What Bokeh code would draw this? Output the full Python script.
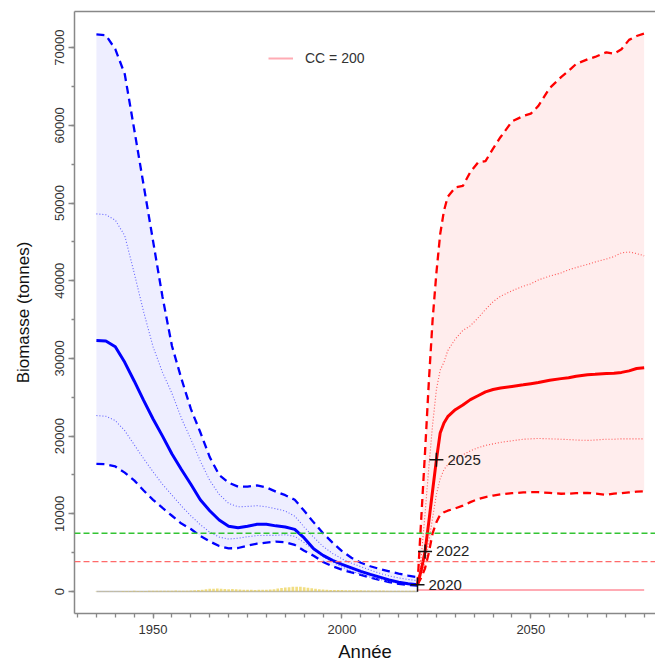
from bokeh.plotting import figure
from bokeh.models import (LinearAxis, SingleIntervalTicker, FixedTicker,
                          NumeralTickFormatter, Span, Legend, LegendItem)
from bokeh.core.properties import value
from bokeh.embed import file_html
from bokeh.resources import INLINE

FONT = "Liberation Sans"

# ---------------- historical reconstruction (blue) ----------------
hist_years = [1935, 1937.5, 1940, 1942.5, 1945, 1947.5, 1950, 1952.5, 1955, 1957.5,
              1960, 1962.5, 1965, 1967.5, 1970, 1972.5, 1975, 1977.5, 1980, 1982.5,
              1985, 1987.5, 1990, 1992.5, 1995, 1997.5, 2000, 2002.5, 2005, 2007.5,
              2010, 2012.5, 2015, 2017.5, 2020]
hist_median = [32300, 32250, 31500, 29500, 27100, 24600, 22200, 20000, 17700, 15700,
               13800, 11800, 10400, 9200, 8400, 8200, 8400, 8650, 8650, 8450,
               8300, 8000, 6900, 5500, 4650, 4000, 3500, 3050, 2600, 2200,
               1850, 1500, 1200, 1000, 860]
hist_hi95 = [71700, 71600, 69800, 66600, 59500, 52300, 45100, 37900, 31600, 27400,
             23500, 20500, 17300, 15000, 14000, 13500, 13500, 13650, 13400, 12850,
             12400, 11800, 10400, 8900, 7500, 6300, 5200, 4350, 3700, 3250,
             2900, 2600, 2300, 2050, 1840]
hist_lo95 = [16430, 16380, 16100, 15300, 14300, 13000, 11800, 10750, 9750, 8750,
             8050, 7150, 6450, 5850, 5550, 5600, 5900, 6150, 6300, 6420,
             6350, 6000, 5250, 4600, 3800, 3250, 2800, 2450, 2150, 1800,
             1500, 1200, 970, 850, 770]
hist_hi50 = [48600, 48500, 47800, 45800, 41000, 36000, 31500, 28200, 25500, 22300,
             19600, 16800, 14300, 12500, 11350, 10900, 10950, 11050, 10900, 10650,
             10350, 9700, 8300, 7000, 5800, 4900, 4200, 3650, 3200, 2750,
             2350, 2000, 1750, 1550, 1400]
hist_lo50 = [22650, 22550, 22000, 20700, 18900, 17100, 15400, 13800, 12400, 11000,
             9750, 8600, 7650, 7000, 6750, 6850, 7050, 7200, 7220, 7230,
             7300, 7100, 6300, 5400, 4500, 3800, 3150, 2650, 2250, 1850,
             1550, 1300, 1080, 920, 820]

# ---------------- projection CC = 200 (red) ----------------
proj_years = [2020, 2021, 2022, 2023, 2024, 2025, 2026, 2027, 2028, 2030, 2032, 2034,
              2036, 2038, 2040, 2042, 2045, 2048, 2050, 2052, 2055, 2058, 2060, 2062,
              2065, 2067, 2070, 2072, 2074, 2076, 2078, 2080]
proj_median = [860, 2800, 5150, 9000, 13000, 16950, 20400, 21700, 22500, 23400, 24000, 24700,
               25200, 25700, 26000, 26200, 26400, 26600, 26750, 26900, 27200, 27400, 27500, 27700,
               27900, 27950, 28050, 28100, 28200, 28400, 28700, 28800]
proj_hi95 = [860, 9500, 18000, 27000, 35000, 41000, 46000, 49000, 50800, 52000, 52200, 54000,
             55200, 55400, 57000, 58500, 60500, 61200, 61500, 62500, 64800, 66200, 67000, 67900,
             68500, 68800, 69400, 69200, 69800, 71000, 71500, 71800]
proj_lo95 = [860, 1800, 3000, 5000, 7500, 8900, 9900, 10200, 10400, 10700, 11050, 11500,
             11900, 12150, 12350, 12500, 12650, 12750, 12800, 12780, 12700, 12580, 12600, 12650,
             12700, 12600, 12440, 12600, 12650, 12750, 12850, 12900]
proj_hi50 = [860, 4500, 10000, 16000, 21500, 26000, 28500, 29500, 31000, 32500, 33600, 34200,
             35200, 36300, 37300, 38000, 38700, 39300, 39600, 40100, 40600, 41000, 41400, 41700,
             42100, 42400, 42800, 43100, 43600, 43700, 43500, 43200]
proj_lo50 = [860, 2200, 4000, 6500, 9500, 12500, 14500, 15700, 16300, 17000, 17600, 18100,
             18500, 18800, 19000, 19200, 19400, 19600, 19650, 19700, 19650, 19600, 19550, 19500,
             19450, 19500, 19600, 19600, 19650, 19650, 19650, 19650]

# ---------------- catches ----------------
catch_years = list(range(1935, 2020))
catch_values = [20, 20, 25, 30, 30, 40, 40, 50, 60, 70,
                90, 80, 70, 80, 90, 100, 110, 100, 90, 100,
                110, 120, 110, 100, 110, 130, 150, 180, 220, 280,
                340, 360, 380, 350, 320, 300, 310, 290, 260, 240,
                230, 220, 210, 220, 230, 240, 260, 300, 380, 450,
                520, 560, 600, 620, 600, 560, 500, 420, 350, 300,
                260, 230, 210, 200, 190, 180, 170, 160, 160, 150,
                150, 140, 140, 130, 130, 120, 120, 110, 110, 100,
                100, 100, 90, 90, 90]
zero_years = [1935, 2020]
zero_values = [0, 0]
cc_years = [2020, 2080]
cc_values = [200, 200]
cc_label = "CC = 200"

# ---------------- reference points ----------------
bpa = 7500
blim = 3850
mark_years = [2020, 2022, 2025]
mark_values = [860, 5150, 16950]
mark_labels = ["2020", "2022", "2025"]

p = figure(frame_width=581, frame_height=602,
           x_range=(1929.2, 2083.0), y_range=(-2830, 74650),
           output_backend="svg", toolbar_location=None,
           min_border_left=74, min_border_top=11, min_border_right=0, min_border_bottom=0,
           background_fill_color="white", border_fill_color="white")
p.outline_line_color = None
p.xgrid.visible = False
p.ygrid.visible = False

# bands
p.varea(x=hist_years, y1=hist_lo95, y2=hist_hi95, fill_color="#0000ff", fill_alpha=0.065)
p.varea(x=proj_years, y1=proj_lo95, y2=proj_hi95, fill_color="#ff0000", fill_alpha=0.07)

# reference lines
p.add_layout(Span(location=bpa, dimension="width", line_color="#33c433", line_alpha=1.0,
                  line_width=1.3, line_dash="6 3"))
p.add_layout(Span(location=blim, dimension="width", line_color="#ff6a6a", line_alpha=1.0,
                  line_width=1.3, line_dash="6 3"))

# catches
p.line(zero_years, zero_values, line_color="#bbbbbb", line_width=1.5)
p.vbar(x=catch_years, top=catch_values, bottom=0, width=0.7,
       fill_color="#e8c830", fill_alpha=0.6, line_color=None)
cc = p.line(cc_years, cc_values, line_color="#ff6677", line_alpha=0.55, line_width=2)

# blue history
p.line(hist_years, hist_hi95, line_color="#0000ff", line_width=2.3, line_dash="8 5")
p.line(hist_years, hist_lo95, line_color="#0000ff", line_width=2.3, line_dash="8 5")
p.line(hist_years, hist_hi50, line_color="#6666ff", line_width=1.1, line_dash="1 2")
p.line(hist_years, hist_lo50, line_color="#6666ff", line_width=1.1, line_dash="1 2")
p.line(hist_years, hist_median, line_color="#0000ff", line_width=3)

# red projection
p.line(proj_years, proj_hi95, line_color="#ff0000", line_width=2.3, line_dash="8 5")
p.line(proj_years, proj_lo95, line_color="#ff0000", line_width=2.3, line_dash="8 5")
p.line(proj_years, proj_hi50, line_color="#ff5555", line_width=1.1, line_dash="1 2")
p.line(proj_years, proj_lo50, line_color="#ff5555", line_width=1.1, line_dash="1 2")
p.line(proj_years, proj_median, line_color="#ff0000", line_width=3)

# marks
p.scatter(mark_years, mark_values, marker="cross", size=14, line_color="#111111", line_width=1.5)
p.text(x=mark_years, y=mark_values, text=mark_labels, x_offset=11, text_baseline="middle",
       text_align="left", text_font=value(FONT), text_font_size="15px", text_color="#222222")

# legend
legend = Legend(items=[LegendItem(label=cc_label, renderers=[cc])],
                location=(194, 547), padding=0, margin=0, spacing=0,
                glyph_width=25, glyph_height=14, label_height=14, label_standoff=12,
                border_line_color=None, background_fill_alpha=0,
                label_text_font=FONT, label_text_font_size="14px", label_text_color="#333333")
p.add_layout(legend, "center")

# axes
AX = "#888888"
for ax in (p.xaxis[0], p.yaxis[0]):
    ax.axis_line_color = AX
    ax.axis_line_width = 1.5
    ax.major_tick_line_color = AX
    ax.minor_tick_line_color = AX
    ax.major_tick_line_width = 1.3
    ax.minor_tick_line_width = 1.3
    ax.major_tick_in = 0
    ax.minor_tick_in = 0
    ax.major_label_text_font = FONT
    ax.major_label_text_font_size = "13px"
    ax.major_label_text_color = "#333333"
    ax.axis_label_text_font = FONT
    ax.axis_label_text_font_style = "normal"
    ax.axis_label_text_color = "#111111"

p.xaxis.ticker = SingleIntervalTicker(interval=50, num_minor_ticks=10)
p.xaxis.major_tick_out = 5
p.xaxis.minor_tick_out = 4
p.xaxis.major_label_standoff = 6
p.xaxis.axis_label = "Année"
p.xaxis.axis_label_standoff = 4
p.xaxis.axis_label_text_font_size = "18.5px"

p.yaxis.ticker = SingleIntervalTicker(interval=10000, num_minor_ticks=2)
p.yaxis.formatter = NumeralTickFormatter(format="0")
p.yaxis.major_tick_out = 6
p.yaxis.minor_tick_out = 3
p.yaxis.major_label_orientation = "vertical"
p.yaxis.major_label_standoff = 4
p.yaxis.axis_label = "Biomasse (tonnes)"
p.yaxis.axis_label_standoff = 20
p.yaxis.axis_label_text_font_size = "17px"

top = LinearAxis(ticker=FixedTicker(ticks=[]), major_tick_out=0, minor_tick_out=0,
                 major_tick_in=0, minor_tick_in=0, major_label_text_font_size="0px",
                 axis_line_color=AX, axis_line_width=1.5)
p.add_layout(top, "above")

html = file_html(p, INLINE)
html = html.replace("<head>", "<head><style>html,body{overflow:hidden}</style>", 1)
open("out.html", "w").write(html)
